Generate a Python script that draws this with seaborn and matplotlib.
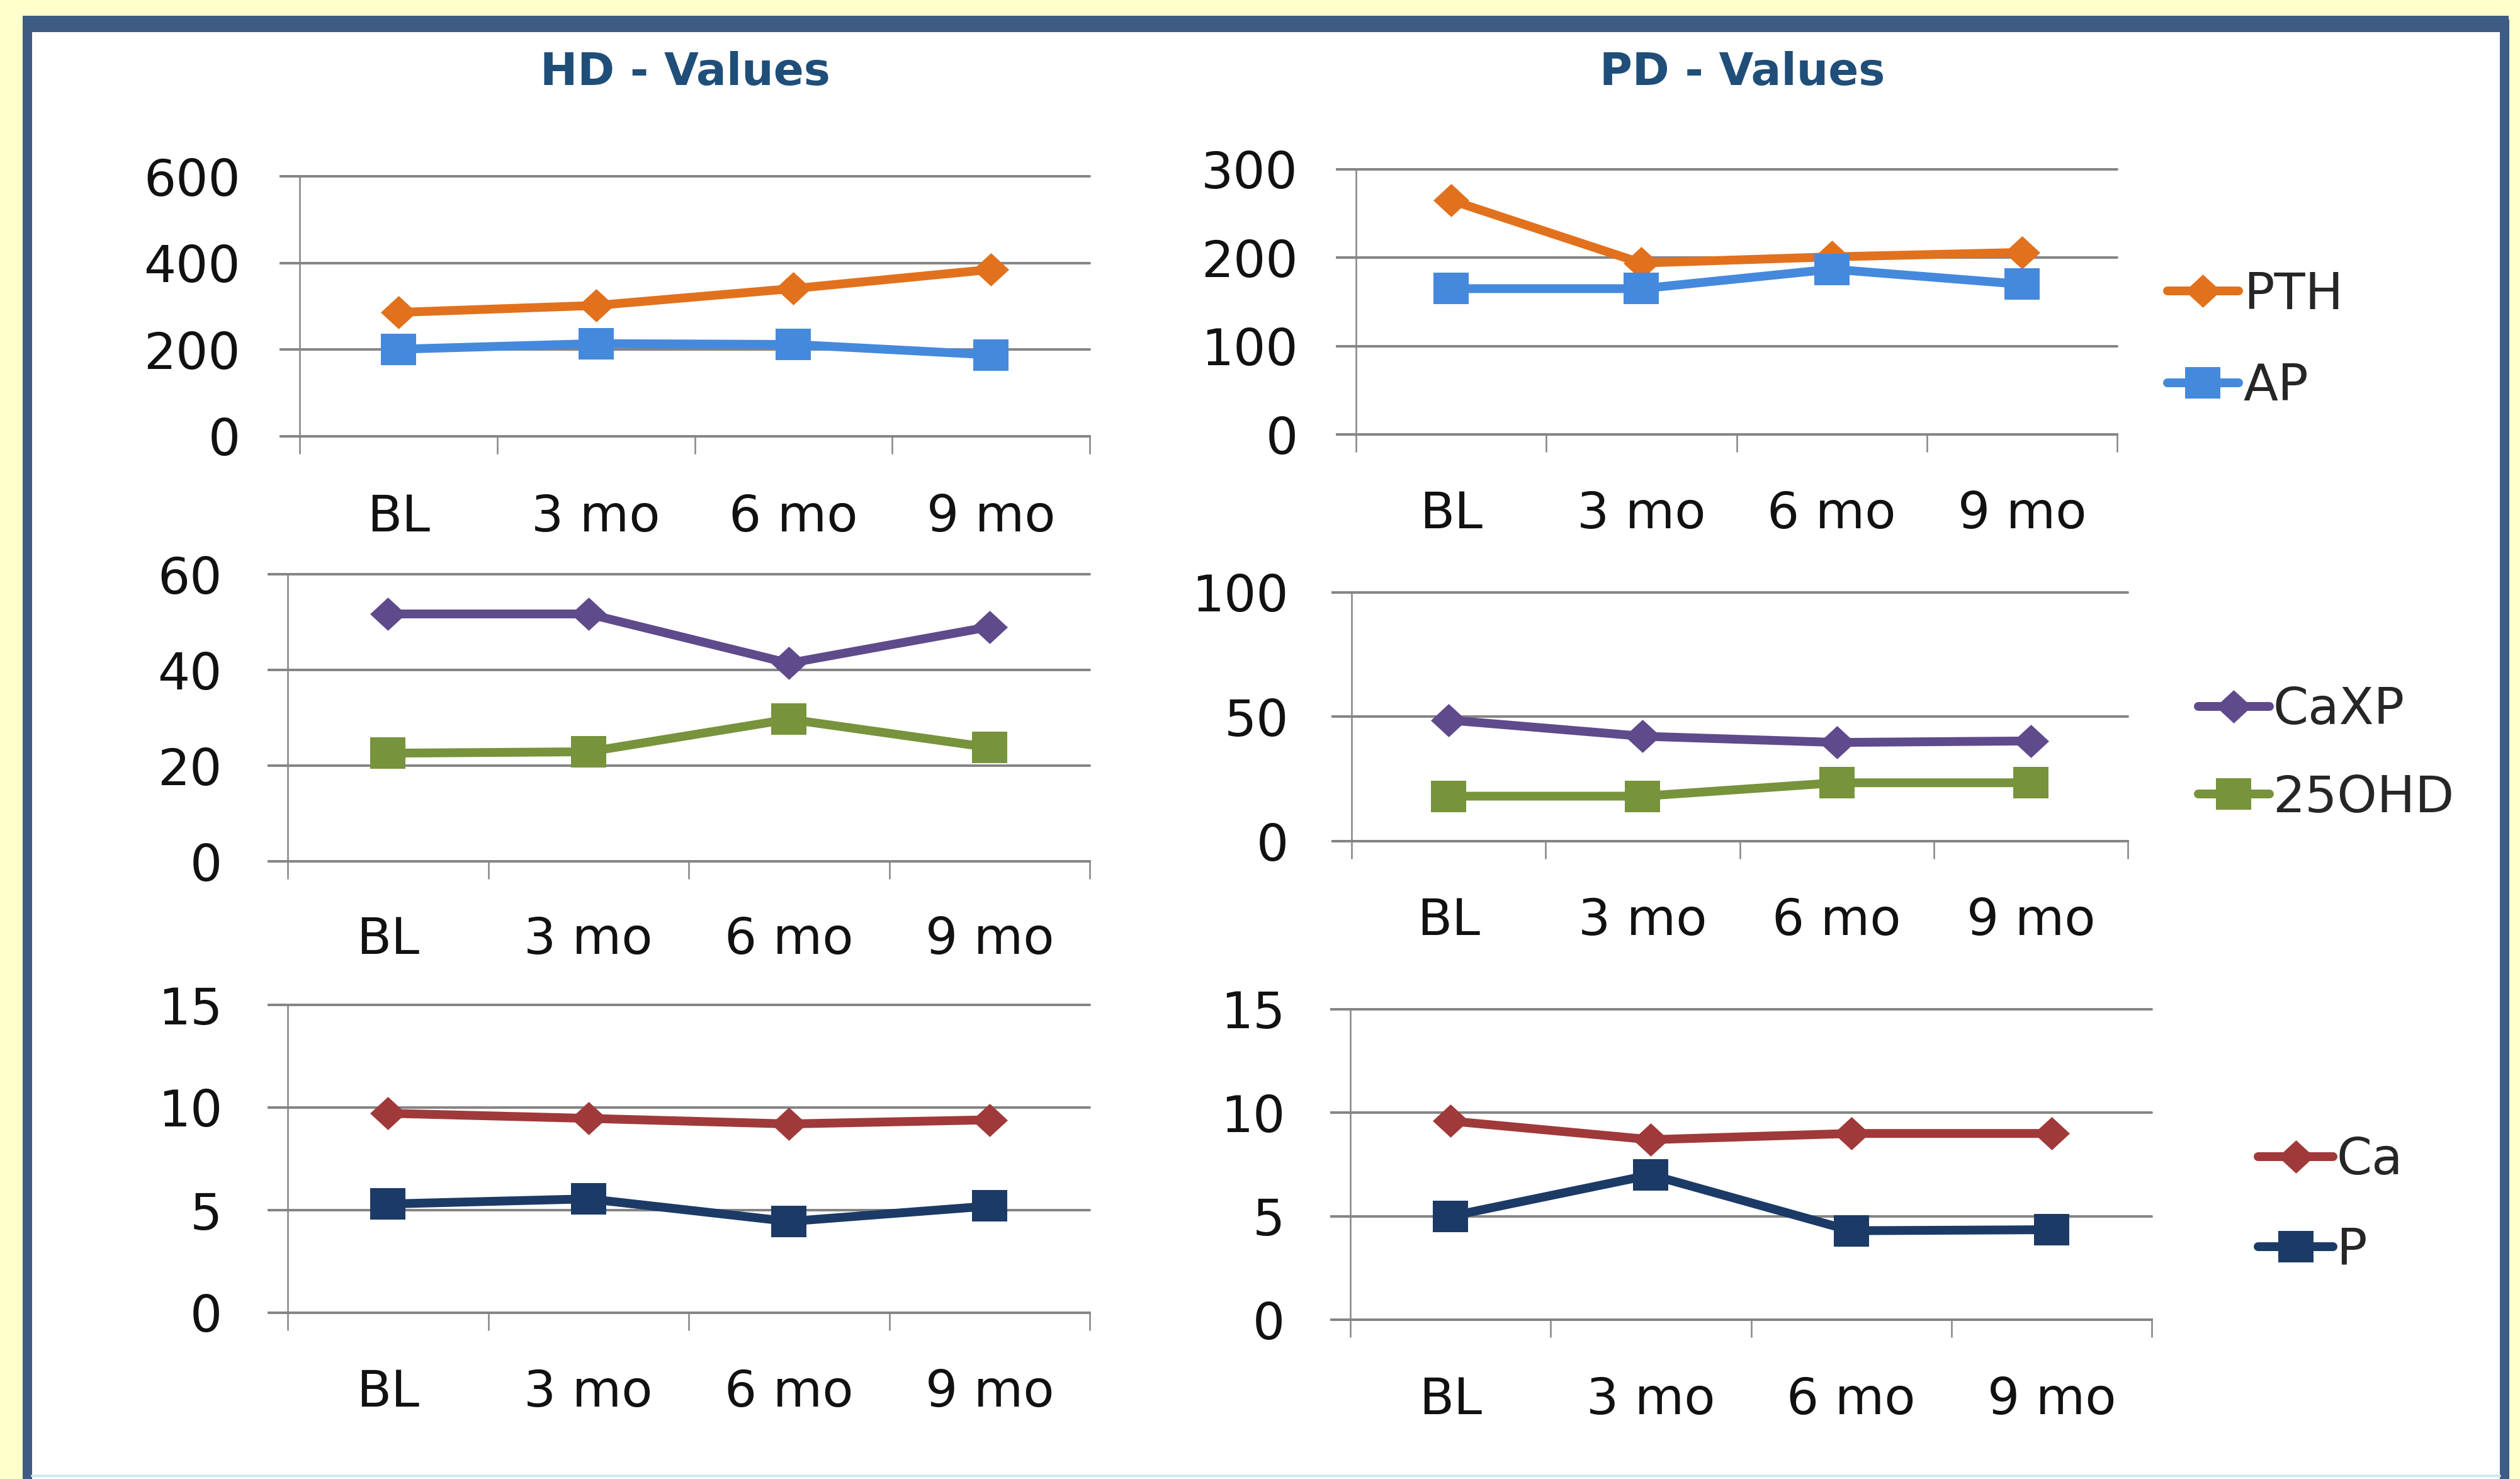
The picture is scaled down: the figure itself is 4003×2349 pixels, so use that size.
import numpy as np
import matplotlib
matplotlib.use("Agg")
import matplotlib.pyplot as plt
import seaborn as sns
from matplotlib.lines import Line2D
from matplotlib.patches import Rectangle

# ---------------- data ----------------
categories = ["BL", "3 mo", "6 mo", "9 mo"]

hd_pth = [286, 302, 341, 385]
hd_ap = [201, 214, 212, 188]
pd_pth = [265, 194, 201, 206]
pd_ap = [165, 165, 187, 170]

hd_caxp = [51.7, 51.7, 41.4, 49.0]
hd_25ohd = [22.6, 22.9, 29.7, 23.8]
pd_caxp = [48.7, 42.2, 39.7, 40.3]
pd_25ohd = [18.1, 18.1, 23.5, 23.5]

hd_ca = [9.72, 9.47, 9.2, 9.4]
hd_p = [5.3, 5.55, 4.45, 5.2]
pd_ca = [9.6, 8.7, 9.0, 9.0]
pd_p = [5.0, 7.0, 4.3, 4.35]

titles = ["HD - Values", "PD - Values"]

# ---------------- style ----------------
sns.set_style("white")
plt.rcParams['font.family'] = ['DejaVu Sans']

W, H, DPI = 4003, 2349, 100


def pt(px):
    return px * 72.0 / DPI


def fx(x):
    return x / W


def fy(y):
    return 1 - y / H


# slightly wide markers (the original chart is stretched horizontally)
DIAMOND = [(0, 0.5), (0.54, 0), (0, -0.5), (-0.54, 0), (0, 0.5)]
SQUARE = [(-0.56, -0.5), (0.56, -0.5), (0.56, 0.5), (-0.56, 0.5), (-0.56, -0.5)]

COLORS = {"PTH": "#E2711D", "AP": "#4589DD", "CaXP": "#5F4A8B",
          "25OHD": "#77933C", "Ca": "#A0393A", "P": "#1C3A66"}
KIND = {"PTH": "D", "AP": "s", "CaXP": "D", "25OHD": "s", "Ca": "D", "P": "s"}
MARKERS = {"D": DIAMOND, "s": SQUARE}
MSIZE = {"D": pt(57), "s": pt(56)}
LW = pt(14)
GRID = "#858585"
BORDER = "#3E5B84"
FS = 58

fig = plt.figure(figsize=(W / DPI, H / DPI), dpi=DPI, facecolor="#FFFFCC")

# panel background and border
fig.patches.append(Rectangle((fx(43), fy(2400)), fx(3978) - fx(43), fy(38) - fy(2400),
                             transform=fig.transFigure, facecolor="white",
                             edgecolor=BORDER, lw=pt(15), zorder=-10))
fig.patches.append(Rectangle((fx(36), fy(51)), fx(3985) - fx(36), fy(25) - fy(51),
                             transform=fig.transFigure, facecolor=BORDER,
                             edgecolor="none", zorder=-9))
fig.lines.append(Line2D([fx(51), fx(3971)], [fy(2344), fy(2344)], transform=fig.transFigure,
                        color="#cfe9f2", lw=pt(4), zorder=-8))

# titles
fig.text(fx(1088), fy(135), titles[0], ha="center", va="baseline", fontsize=51,
         fontweight="bold", color="#1F4E79")
fig.text(fx(2768), fy(135), titles[1], ha="center", va="baseline", fontsize=51,
         fontweight="bold", color="#1F4E79")

panels = [
    dict(box=(476, 1731, 280, 693), ylim=600, yticks=[0, 200, 400, 600],
         series=[("PTH", hd_pth), ("AP", hd_ap)], xpad=90, ypad=62),
    dict(box=(2154, 3363, 269, 690), ylim=300, yticks=[0, 100, 200, 300],
         series=[("PTH", pd_pth), ("AP", pd_ap)], xpad=88, ypad=60),
    dict(box=(457, 1731, 912, 1368), ylim=60, yticks=[0, 20, 40, 60],
         series=[("CaXP", hd_caxp), ("25OHD", hd_25ohd)], xpad=86, ypad=72),
    dict(box=(2147, 3380, 941, 1336), ylim=100, yticks=[0, 50, 100],
         series=[("CaXP", pd_caxp), ("25OHD", pd_25ohd)], xpad=88, ypad=68),
    dict(box=(457, 1731, 1596, 2085), ylim=15, yticks=[0, 5, 10, 15],
         series=[("Ca", hd_ca), ("P", hd_p)], xpad=88, ypad=72),
    dict(box=(2145, 3418, 1603, 2096), ylim=15, yticks=[0, 5, 10, 15],
         series=[("Ca", pd_ca), ("P", pd_p)], xpad=89, ypad=72),
]

x = np.arange(len(categories))

for p in panels:
    x0, x1, yt, yb = p["box"]
    ax = fig.add_axes([fx(x0), fy(yb), fx(x1) - fx(x0), fy(yt) - fy(yb)])
    ax.set_facecolor("none")
    for name, vals in p["series"]:
        c = COLORS[name]
        k = KIND[name]
        sns.lineplot(x=x, y=vals, ax=ax, color=c, marker=MARKERS[k], markersize=MSIZE[k],
                     linewidth=LW, markeredgecolor=c, markeredgewidth=0,
                     legend=False, sort=False, clip_on=False, zorder=3)
    ax.set_xlim(-0.5, len(categories) - 0.5)
    ax.set_ylim(0, p["ylim"])
    ax.set_yticks(p["yticks"])
    ax.set_xticks(x)
    ax.set_xticklabels(categories)
    ax.set_xticks(np.arange(-0.5, len(categories), 1.0), minor=True)
    ax.set_xlabel("")
    ax.set_ylabel("")
    ax.tick_params(axis="x", which="major", length=0, pad=pt(p["xpad"]),
                   labelsize=FS, labelcolor="#111111")
    ax.tick_params(axis="x", which="minor", length=pt(28), width=pt(2.5),
                   color=GRID, direction="out", bottom=True)
    ax.tick_params(axis="y", which="major", length=pt(32), width=pt(4),
                   color=GRID, direction="out", pad=pt(p["ypad"]),
                   labelsize=FS, labelcolor="#111111", left=True)
    ax.grid(axis="y", color=GRID, lw=pt(4))
    ax.grid(axis="x", visible=False)
    for gl in ax.get_ygridlines():
        gl.set_clip_on(False)
    ax.set_axisbelow(True)
    for s in ["top", "right"]:
        ax.spines[s].set_visible(False)
    ax.spines["left"].set_color(GRID)
    ax.spines["left"].set_linewidth(pt(2.5))
    ax.spines["bottom"].set_color(GRID)
    ax.spines["bottom"].set_linewidth(pt(4))

legends = [
    (("PTH", "AP"), 3443, (468 + 615) / 2, 1.40, 0.10, 0.84),
    (("CaXP", "25OHD"), 3492, (1128 + 1268) / 2, 1.40, 0.07, 0.76),
    (("Ca", "P"), 3587, (1841 + 1988) / 2, 1.48, 0.06, 0.81),
]
for names, lx, ly, hl, htp, ls in legends:
    handles = [Line2D([], [], color=COLORS[n], marker=MARKERS[KIND[n]],
                      markersize=MSIZE[KIND[n]], lw=LW, mec=COLORS[n], mew=0)
               for n in names]
    fig.legend(handles, list(names), loc="center left",
               bbox_to_anchor=(fx(lx), fy(ly)), frameon=False, fontsize=FS,
               handlelength=hl, handletextpad=htp, labelspacing=ls,
               borderpad=0, borderaxespad=0, numpoints=1)

fig.savefig("out.png", dpi=DPI, facecolor=fig.get_facecolor())
